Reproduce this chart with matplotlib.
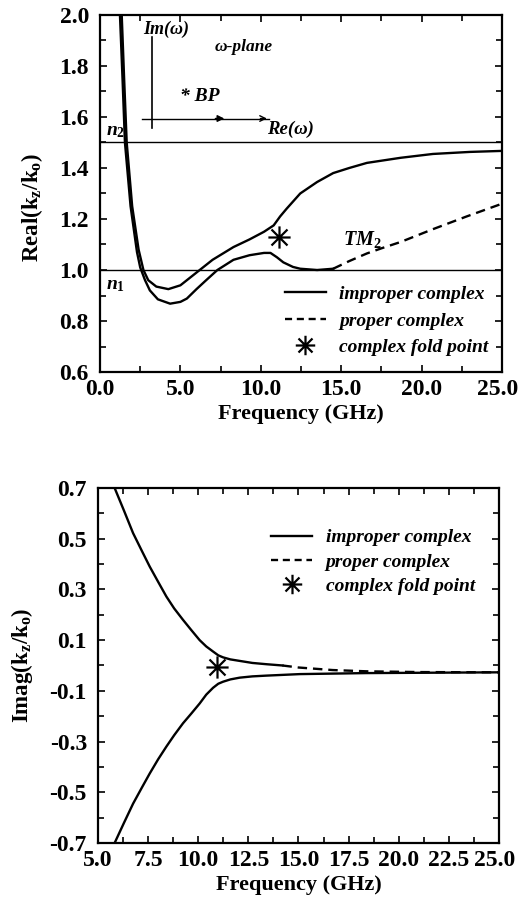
import matplotlib
matplotlib.use("Agg")
import matplotlib.pyplot as plt
import matplotlib.transforms as mtransforms
from matplotlib.path import Path
from matplotlib.lines import Line2D

plt.rcParams['font.family'] = ['Liberation Serif', 'DejaVu Serif']
plt.rcParams['font.weight'] = 'bold'
plt.rcParams['mathtext.fontset'] = 'custom'
plt.rcParams['mathtext.rm'] = 'Liberation Serif:bold'
plt.rcParams['mathtext.it'] = 'Liberation Serif:bold:italic'
plt.rcParams['mathtext.bf'] = 'Liberation Serif:bold'

# ---------------- data: real part ----------------
re_up_f = [1.35, 1.5, 1.66, 2.0, 2.4, 2.7, 3.0, 3.5, 4.25, 5.0, 5.6, 6.2, 7.0, 8.3, 9.3,
           10.2, 10.8, 11.2, 11.6, 12.45, 13.5, 14.5, 15.5, 16.6, 18.7, 20.7, 23.0, 25.0]
re_up_v = [2.0, 1.75, 1.5, 1.25, 1.08, 1.0, 0.96, 0.935, 0.925, 0.94, 0.97, 1.0, 1.04, 1.09, 1.12,
           1.15, 1.175, 1.21, 1.24, 1.30, 1.345, 1.38, 1.40, 1.42, 1.44, 1.455, 1.463, 1.467]

re_lo_f = [1.24, 1.4, 1.55, 1.9, 2.3, 2.5, 2.8, 3.1, 3.6, 4.36, 5.0, 5.4, 6.0, 6.6, 7.3, 8.3,
           9.3, 10.2, 10.6, 11.0, 11.4, 12.0, 12.45, 13.5, 14.5]
re_lo_v = [2.0, 1.75, 1.5, 1.25, 1.07, 1.01, 0.96, 0.92, 0.885, 0.868, 0.875, 0.888, 0.925, 0.96, 1.0, 1.04,
           1.058, 1.067, 1.067, 1.05, 1.03, 1.012, 1.005, 1.0, 1.005]

re_pr_f = [14.5, 15.5, 16.6, 17.5, 18.7, 20.7, 22.8, 25.0]
re_pr_v = [1.005, 1.035, 1.065, 1.085, 1.11, 1.16, 1.21, 1.26]

re_fold = (11.1, 1.13)
n1, n2 = 1.0, 1.5

# ---------------- data: imaginary part ----------------
im_up_f = [5.83, 6.3, 6.75, 7.2, 7.58, 8.0, 8.41, 8.8, 9.24, 9.65, 10.07, 10.4, 10.74, 11.0,
           11.24, 11.6, 12.07, 12.7, 13.4, 14.2]
im_up_v = [0.7, 0.61, 0.522, 0.45, 0.39, 0.33, 0.272, 0.225, 0.18, 0.14, 0.10, 0.075, 0.055, 0.04,
           0.032, 0.024, 0.018, 0.01, 0.005, 0.0]

im_pr_f = [14.2, 15.0, 16.7, 18.4, 21.0, 25.0]
im_pr_v = [0.0, -0.008, -0.018, -0.023, -0.026, -0.027]

im_lo_f = [5.83, 6.3, 6.75, 7.2, 7.58, 8.0, 8.41, 8.8, 9.24, 9.65, 10.07, 10.4, 10.74, 11.0,
           11.24, 11.6, 12.07, 12.7, 13.4, 15.07, 18.4, 25.0]
im_lo_v = [-0.7, -0.62, -0.545, -0.48, -0.426, -0.37, -0.32, -0.275, -0.228, -0.19, -0.15, -0.115,
           -0.088, -0.072, -0.064, -0.055, -0.048, -0.043, -0.04, -0.034, -0.03, -0.027]

im_fold = (10.93, -0.007)

top_xticks = [0.0, 5.0, 10.0, 15.0, 20.0, 25.0]
top_yticks = [0.6, 0.8, 1.0, 1.2, 1.4, 1.6, 1.8, 2.0]
bot_xticks = [5.0, 7.5, 10.0, 12.5, 15.0, 17.5, 20.0, 22.5, 25.0]
bot_yticks = [-0.7, -0.5, -0.3, -0.1, 0.1, 0.3, 0.5, 0.7]

legend_labels = ['improper complex', 'proper complex', 'complex fold point']

# asterisk marker (8 arms)
ast = Path([(0, -1), (0, 1), (-1, 0), (1, 0), (-0.72, -0.72), (0.72, 0.72), (-0.72, 0.72), (0.72, -0.72)],
           [Path.MOVETO, Path.LINETO] * 4)

fig = plt.figure(figsize=(5.19, 9.01), dpi=100)
ax1 = fig.add_axes([0.1927, 0.5871, 0.7746, 0.3963])
ax2 = fig.add_axes([0.1888, 0.0644, 0.7726, 0.3940])

tickfont = dict(family='Liberation Serif', weight='bold', size=17)
legfont = dict(family='Liberation Serif', weight='bold', style='italic', size=14)

def style(ax):
    for s in ax.spines.values():
        s.set_linewidth(1.6)
    ax.tick_params(which='both', direction='in', top=True, right=True, width=1.2)
    ax.tick_params(which='major', length=5)
    ax.tick_params(which='minor', length=4)
    ax.tick_params(axis='y', which='major', pad=8)
    ax.tick_params(axis='x', which='major', pad=5)

def nudge_last_xlabel(ax):
    lab = ax.get_xticklabels()[-1]
    lab.set_transform(lab.get_transform() + mtransforms.ScaledTranslation(-4 / 100, 0, fig.dpi_scale_trans))

# ---------- top panel ----------
lw = 1.7
ax1.plot(re_up_f, re_up_v, 'k-', lw=lw)
ax1.plot(re_lo_f, re_lo_v, 'k-', lw=lw)
ax1.plot(re_pr_f, re_pr_v, 'k--', lw=lw, dashes=(4, 2.5))
ax1.axhline(n2, color='k', lw=1.0)
ax1.axhline(n1, color='k', lw=1.0)
ax1.plot([re_fold[0]], [re_fold[1]], marker=ast, color='k', ms=16, mew=1.6, ls='none')
ax1.set_xlim(0, 25)
ax1.set_ylim(0.6, 2.0)
ax1.set_xticks(top_xticks)
ax1.set_xticklabels([f'{v:.1f}' for v in top_xticks], fontdict=tickfont)
ax1.set_xticks([2.5, 7.5, 12.5, 17.5, 22.5], minor=True)
ax1.set_yticks(top_yticks)
ax1.set_yticklabels([f'{v:.1f}' for v in top_yticks], fontdict=tickfont)
ax1.set_yticks([0.7, 0.9, 1.1, 1.3, 1.5, 1.7, 1.9], minor=True)
style(ax1)
ax1.set_xlabel('Frequency (GHz)', fontsize=16, fontweight='bold', labelpad=3)
ax1.set_ylabel(r'Real(k$_{\mathrm{z}}$/k$_{\mathrm{o}}$)', fontsize=16.5, fontweight='bold')
ax1.yaxis.set_label_coords(-0.137, 0.46)

# inset omega plane
ax1.plot([3.26, 3.26], [1.555, 1.915], 'k-', lw=1.2)
ax1.plot([2.6, 10.5], [1.594, 1.594], 'k-', lw=1.0)
ax1.annotate('', xy=(7.9, 1.594), xytext=(7.0, 1.594),
             arrowprops=dict(arrowstyle='-|>', color='k', lw=1.0, mutation_scale=10))
ax1.annotate('', xy=(10.55, 1.594), xytext=(9.8, 1.594),
             arrowprops=dict(arrowstyle='->', color='k', lw=1.0, mutation_scale=10))
ax1.text(2.7, 1.945, 'Im(ω)', fontsize=13, style='italic', weight='bold', va='center', ha='left')
ax1.text(7.1, 1.875, 'ω-plane', fontsize=12.5, style='italic', weight='bold', va='center', ha='left')
ax1.text(5.0, 1.68, '* BP', fontsize=14, style='italic', weight='bold', va='center', ha='left')
ax1.text(10.4, 1.55, 'Re(ω)', fontsize=13.5, style='italic', weight='bold', va='center', ha='left')
ax1.text(0.4, 1.545, r'$n_{2}$', fontsize=14, va='center', ha='left')
ax1.text(0.4, 0.94, r'$n_{1}$', fontsize=14, va='center', ha='left')
ax1.text(15.1, 1.12, r'$TM_{2}$', fontsize=14.5, va='center', ha='left')

def make_handles():
    h1 = Line2D([], [], color='k', lw=lw)
    h2 = Line2D([], [], color='k', lw=lw, ls='--', dashes=(3, 2))
    h3 = Line2D([], [], color='k', marker=ast, ms=14, mew=1.6, ls='none')
    return [h1, h2, h3]

leg1 = ax1.legend(make_handles(), legend_labels, loc='lower left', bbox_to_anchor=(0.46, 0.045),
                  frameon=False, prop=legfont, handlelength=2.1, handletextpad=0.7,
                  labelspacing=0.45, borderpad=0, borderaxespad=0)

# ---------- bottom panel ----------
ax2.plot(im_up_f, im_up_v, 'k-', lw=lw)
ax2.plot(im_lo_f, im_lo_v, 'k-', lw=lw)
ax2.plot(im_pr_f, im_pr_v, 'k--', lw=lw, dashes=(4, 2.5))
ax2.plot([im_fold[0]], [im_fold[1]], marker=ast, color='k', ms=16, mew=1.6, ls='none')
ax2.set_xlim(5, 25)
ax2.set_ylim(-0.7, 0.7)
ax2.set_xticks(bot_xticks)
ax2.set_xticklabels([f'{v:.1f}' for v in bot_xticks], fontdict=tickfont)
ax2.set_xticks([6.25, 8.75, 11.25, 13.75, 16.25, 18.75, 21.25, 23.75], minor=True)
ax2.set_yticks(bot_yticks)
ax2.set_yticklabels([f'{v:.1f}' for v in bot_yticks], fontdict=tickfont)
ax2.set_yticks([-0.6, -0.4, -0.2, 0.0, 0.2, 0.4, 0.6], minor=True)
style(ax2)
ax2.set_xlabel('Frequency (GHz)', fontsize=16, fontweight='bold', labelpad=3)
ax2.set_ylabel(r'Imag(k$_{\mathrm{z}}$/k$_{\mathrm{o}}$)', fontsize=16.5, fontweight='bold')
ax2.yaxis.set_label_coords(-0.157, 0.5)

leg2 = ax2.legend(make_handles(), legend_labels, loc='upper left', bbox_to_anchor=(0.4325, 0.885),
                  frameon=False, prop=legfont, handlelength=2.1, handletextpad=0.7,
                  labelspacing=0.35, borderpad=0, borderaxespad=0)

nudge_last_xlabel(ax1)
nudge_last_xlabel(ax2)

fig.savefig('out.png', dpi=100)
